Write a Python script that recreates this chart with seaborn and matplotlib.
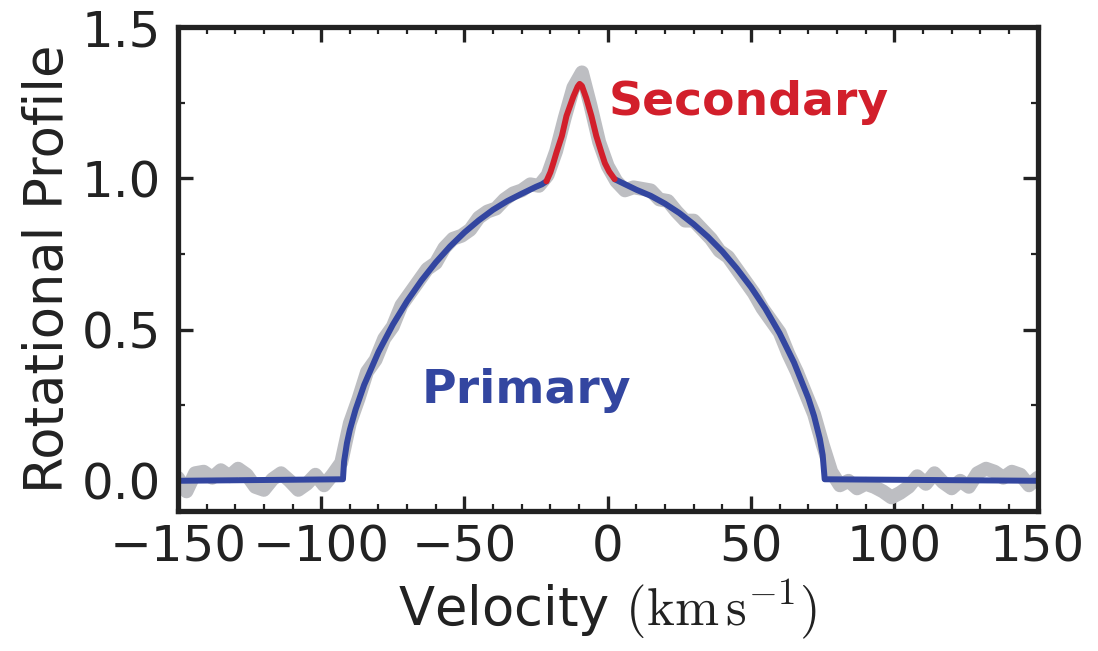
import matplotlib
matplotlib.use("Agg")
from matplotlib import pyplot as plt
from matplotlib.ticker import MultipleLocator
import seaborn as sns

obs_velocity = list(range(-150, 151, 3))
obs_profile = [
    0.01, -0.035, 0.025, 0.03, 0.01, 0.035, 0.015, 0.04, 0.02, -0.02,
    -0.03, 0.005, 0.025, 0.0, -0.03, -0.01, 0.02, -0.015, 0.02, 0.06,
    0.19, 0.27, 0.36, 0.40, 0.47, 0.51, 0.58, 0.62, 0.66, 0.70,
    0.72, 0.77, 0.80, 0.81, 0.83, 0.87, 0.89, 0.90, 0.93, 0.95,
    0.96, 0.98, 0.975, 1.01, 1.09, 1.20, 1.30, 1.35, 1.24, 1.12,
    1.04, 0.99, 0.96, 0.97, 0.965, 0.96, 0.93, 0.925, 0.89, 0.86,
    0.86, 0.83, 0.80, 0.76, 0.74, 0.70, 0.66, 0.62, 0.57, 0.53,
    0.49, 0.42, 0.36, 0.29, 0.22, 0.12, 0.03, -0.015, 0.0, -0.025,
    -0.01, -0.02, -0.035, -0.055, -0.04, -0.02, 0.015, -0.01, 0.025, -0.005,
    -0.025, 0.0, -0.02, 0.025, 0.04, 0.03, 0.01, 0.03, 0.02, -0.015,
    0.01,
]

# Primary model, left wing
prim_left_v = [-150, -92.4, -92.4, -92, -91, -90, -88, -85, -80, -75, -70, -65,
               -60, -55, -50, -45, -40, -35, -30, -25, -23, -21.4]
prim_left_y = [0.0, 0.0, 0.01, 0.064, 0.125, 0.168, 0.235, 0.317, 0.426, 0.516, 0.594, 0.662,
               0.722, 0.775, 0.821, 0.861, 0.896, 0.925, 0.949, 0.972, 0.980, 0.990]

# Primary model, right wing
prim_right_v = [2.4, 5, 10, 15, 20, 25, 30, 35, 40, 45, 50, 55, 60, 65, 70,
                72, 74, 75, 75.7, 75.7, 150]
prim_right_y = [0.997, 0.985, 0.962, 0.942, 0.916, 0.885, 0.848, 0.806, 0.758, 0.702, 0.640,
                0.569, 0.487, 0.391, 0.273, 0.214, 0.139, 0.085, 0.01, 0.0, 0.0]

# Secondary peak (primary + secondary)
sec_v = [-21.4, -20, -19, -17.9, -16, -14.4, -12, -10.5, -9.8, -9, -7.5, -5.7,
         -4, -2.2, -1, 0.5, 2.4]
sec_y = [0.990, 1.020, 1.050, 1.085, 1.140, 1.206, 1.270, 1.303, 1.312, 1.305, 1.265, 1.206,
         1.140, 1.085, 1.050, 1.022, 0.997]

gray = "#bdbec2"
blue = "#3346a0"
red = "#d21f2b"
dark = "#222222"

sns.set_style("ticks", {
    "xtick.direction": "in", "ytick.direction": "in",
    "axes.edgecolor": dark, "text.color": dark,
    "xtick.color": dark, "ytick.color": dark, "axes.labelcolor": dark,
})
plt.rcParams["font.family"] = ["DejaVu Sans"]
plt.rcParams["mathtext.fontset"] = "cm"

fig = plt.figure(figsize=(10.98, 6.51), dpi=100)
ax = fig.add_axes([0.162, 0.215, 0.783, 0.7435])

line_kw = dict(solid_capstyle="round", solid_joinstyle="round")
sns.lineplot(x=obs_velocity, y=obs_profile, color=gray, lw=10, sort=False, ax=ax, **line_kw)
sns.lineplot(x=prim_left_v, y=prim_left_y, color=blue, lw=4.3, sort=False, ax=ax, **line_kw)
sns.lineplot(x=prim_right_v, y=prim_right_y, color=blue, lw=4.3, sort=False, ax=ax, **line_kw)
sns.lineplot(x=sec_v, y=sec_y, color=red, lw=4.3, sort=False, ax=ax, **line_kw)

ax.text(0.3, 1.25, "Secondary", color=red, fontsize=34, fontweight="bold",
        ha="left", va="center")
ax.text(-65, 0.30, "Primary", color=blue, fontsize=34, fontweight="bold",
        ha="left", va="center")

ax.set_xlim(-150, 150)
ax.set_ylim(-0.1, 1.5)
ax.xaxis.set_major_locator(MultipleLocator(50))
ax.xaxis.set_minor_locator(MultipleLocator(10))
ax.yaxis.set_major_locator(MultipleLocator(0.5))
ax.yaxis.set_minor_locator(MultipleLocator(0.25))
ax.tick_params(which="both", direction="in", top=True, right=True, labelsize=36)
ax.tick_params(which="major", length=11, width=2.4)
ax.tick_params(which="minor", length=5, width=1.6)
ax.tick_params(axis="x", pad=9)
ax.tick_params(axis="y", pad=12)
for sp in ax.spines.values():
    sp.set_linewidth(3.8)

ax.set_xlabel(r"Velocity $(\mathrm{km\,s^{-1}})$", fontsize=38, labelpad=4)
ax.set_ylabel("Rotational Profile", fontsize=38, labelpad=6)

fig.savefig("out.png", dpi=100)
